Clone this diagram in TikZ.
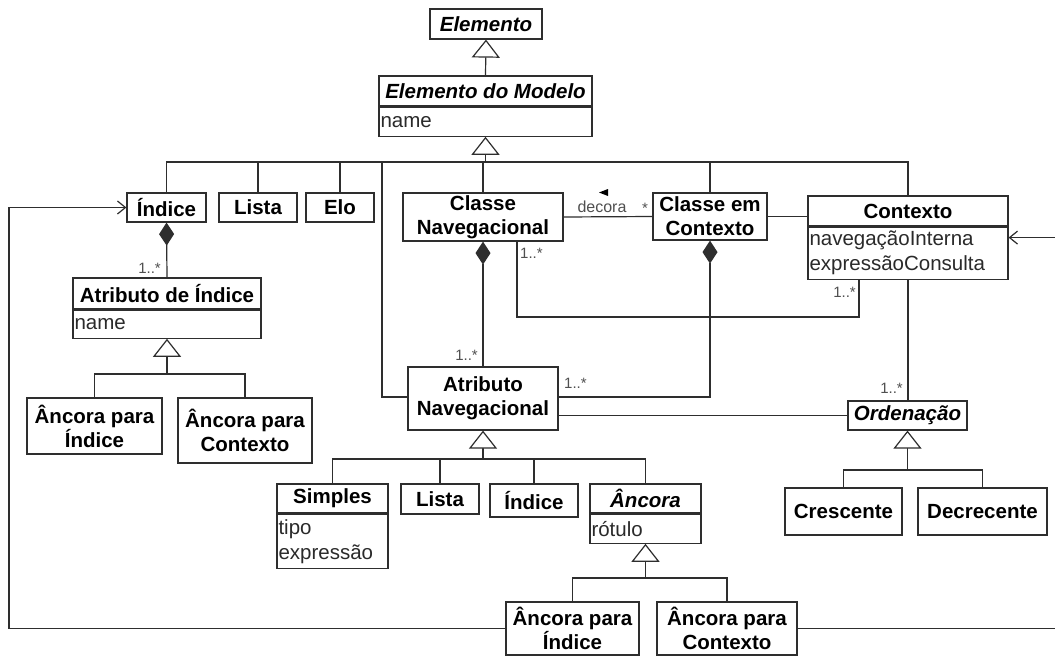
\documentclass[tikz,border=0pt]{standalone}
\usepackage{fontspec}
\setmainfont{Liberation Sans}
\usetikzlibrary{arrows.meta}
\definecolor{ink}{HTML}{2E2E2E}
\definecolor{attrc}{HTML}{2A2A2A}
\definecolor{multc}{HTML}{505050}
\begin{document}
\begin{tikzpicture}[x=1pt,y=-1pt,
  cls/.style={draw=ink, line width=1.2pt, fill=white, inner sep=0pt, align=center,
    font=\fontsize{20.5}{24}\selectfont\bfseries},
  clsi/.style={cls, font=\fontsize{20.5}{24}\selectfont\bfseries\itshape},
  attr/.style={draw=ink, line width=1.2pt, fill=white, inner xsep=1.5pt, inner ysep=0pt,
    align=left, anchor=north, font=\fontsize{20.5}{25}\selectfont, text=attrc},
  mult/.style={font=\fontsize{15}{17}\selectfont, text=multc, inner sep=0pt},
  link/.style={draw=ink, line width=1.2pt},
  gen/.style={link, -{Triangle[open, length=18pt, width=28pt, fill=white]}},
  comp/.style={link, {Diamond[length=23pt, width=15pt]}-},
  nav/.style={link, -{Straight Barb[length=8pt, width=13pt]}}]
\useasboundingbox (0,0) rectangle (1055,659);
\fill[white] (0,0) rectangle (1055,659);

% top of the hierarchy
\node[clsi, minimum width=112pt, minimum height=30pt] (el) at (486,24) {Elemento};
\node[clsi, minimum width=213pt, minimum height=30pt] (em) at (485.5,91) {Elemento do Modelo};
\node[attr, text width=210pt, minimum height=29pt] (emA) at (em.south) {name};

% first row of classes
\node[cls, minimum width=79pt, minimum height=29pt] (ind) at (166.5,207.5) {Índice};
\node[cls, minimum width=78pt, minimum height=29pt] (li1) at (258,207.5) {Lista};
\node[cls, minimum width=68pt, minimum height=29pt] (elo) at (340,207.5) {Elo};
\node[cls, minimum width=160pt, minimum height=48pt] (cn) at (483,217) {Classe\\Navegacional};
\node[cls, minimum width=114pt, minimum height=47pt] (cc) at (710,216.5) {Classe em\\Contexto};
\node[cls, minimum width=200pt, minimum height=30pt] (ctxH) at (908,211) {Contexto};
\node[attr, text width=197pt, minimum height=52pt] (ctxA) at (ctxH.south) {navegaçãoInterna\\expressãoConsulta};

% index attributes
\node[cls, minimum width=188pt, minimum height=31pt] (aiH) at (167,293.5) {Atributo de Índice};
\node[attr, text width=185pt, minimum height=28pt] (aiA) at (aiH.south) {name};
\node[cls, minimum width=135pt, minimum height=56pt] (aPI) at (94.5,426) {Âncora para\\Índice};
\node[cls, minimum width=134pt, minimum height=65pt] (aPC) at (245,430.5) {Âncora para\\Contexto};

% navigational attributes
\node[cls, minimum width=150pt, minimum height=63pt] (an) at (483,398.5) {Atributo\\Navegacional};
\node[clsi, minimum width=119pt, minimum height=29pt] (ord) at (907.5,415.5) {Ordenação};
\node[cls, minimum width=117pt, minimum height=47pt] (cre) at (843.5,511.5) {Crescente};
\node[cls, minimum width=129pt, minimum height=47pt] (dec) at (982.5,511.5) {Decrecente};

\node[cls, minimum width=111pt, minimum height=29pt] (sim) at (332.5,498.5) {Simples};
\node[attr, text width=108pt, minimum height=54pt] (simA) at (sim.south) {tipo\\expressão};
\node[cls, minimum width=78pt, minimum height=30pt] (li2) at (440,499) {Lista};
\node[cls, minimum width=88pt, minimum height=33pt] (in2) at (534,500.5) {Índice};
\node[clsi, minimum width=111pt, minimum height=29pt] (anc) at (645.5,498.5) {Âncora};
\node[attr, text width=108pt, minimum height=29pt] (ancA) at (anc.south) {rótulo};
\node[cls, minimum width=133pt, minimum height=53pt] (bPI) at (572.5,628.5) {Âncora para\\Índice};
\node[cls, minimum width=140pt, minimum height=53pt] (bPC) at (727,628.5) {Âncora para\\Contexto};

% junction points of the generalization trees and rails
\coordinate (gEM) at (485.5,162);
\coordinate (jAN) at (382,162);
\coordinate (gAI) at (167,374);
\coordinate (gAN) at (483,459);
\coordinate (gANC) at (645.5,578);
\coordinate (gOR) at (907.5,470);
\coordinate (jc) at (700,317);
\coordinate (leftrail) at (9,0);
\coordinate (rightrail) at (1057,0);
\coordinate (ctxIn) at ([yshift=-11pt]ctxA.north east);

% generalizations
\draw[gen] (em.north) -- (el.south);
\foreach \c in {ind,li1,elo,cn,cc,ctxH} \draw[link] (\c.north) |- (gEM);
\draw[link] ([yshift=1.5pt]an.west) -| (jAN);
\draw[gen] (gEM) -- (emA.south);

\foreach \c in {aPI,aPC} \draw[link] (\c.north) |- (gAI);
\draw[gen] (gAI) -- (aiA.south);

\foreach \c in {sim,li2,in2,anc} \draw[link] (\c.north) |- (gAN);
\draw[gen] (gAN) -- (an.south);

\foreach \c in {bPI,bPC} \draw[link] (\c.north) |- (gANC);
\draw[gen] (gANC) -- (ancA.south);

\foreach \c in {cre,dec} \draw[link] (\c.north) |- (gOR);
\draw[gen] (gOR) -- (ord.south);

% compositions
\draw[comp] (ind.south) -- (aiH.north);
\draw[comp] (cn.south) -- (an.north);
\draw[comp] (cc.south) |- ([yshift=1.5pt]an.east);

% associations
\draw[link] (cn.east) -- (cc.west);
\draw[link] (cc.east) -- (cc.east -| ctxH.west);
\draw[link] ([xshift=34pt]cn.south) |- (jc) -| ([xshift=-49pt]ctxA.south);
\draw[link] (ctxA.south) -- (ctxA.south |- ord.north);
\draw[link] (ord.west -| an.east) -- (ord.west);

% navigable references back to the index and the context
\draw[nav] (bPI.west) -| (leftrail |- ind.west) -- (ind.west);
\draw[nav] (bPC.east) -| (rightrail |- ctxIn) -- (ctxIn);

% association labels and multiplicities
\node[mult, anchor=east] (m1) at (161,268) {1..*};
\node[mult, anchor=east] (m2) at (478,355) {1..*};
\node[mult, anchor=west] (m3) at (520,253) {1..*};
\node[mult, anchor=east] (m4) at (856,292) {1..*};
\node[mult, anchor=west] (m5) at (564,383) {1..*};
\node[mult, anchor=east] (m6) at (903,388) {1..*};
\node[mult, font=\fontsize{16}{18}\selectfont] (dec1) at (602,207) {decora};
\node[mult] (m7) at (645,208) {*};
\fill[black] (599,192.5) -- (608,189) -- (608,196) -- cycle;
\end{tikzpicture}
\end{document}
